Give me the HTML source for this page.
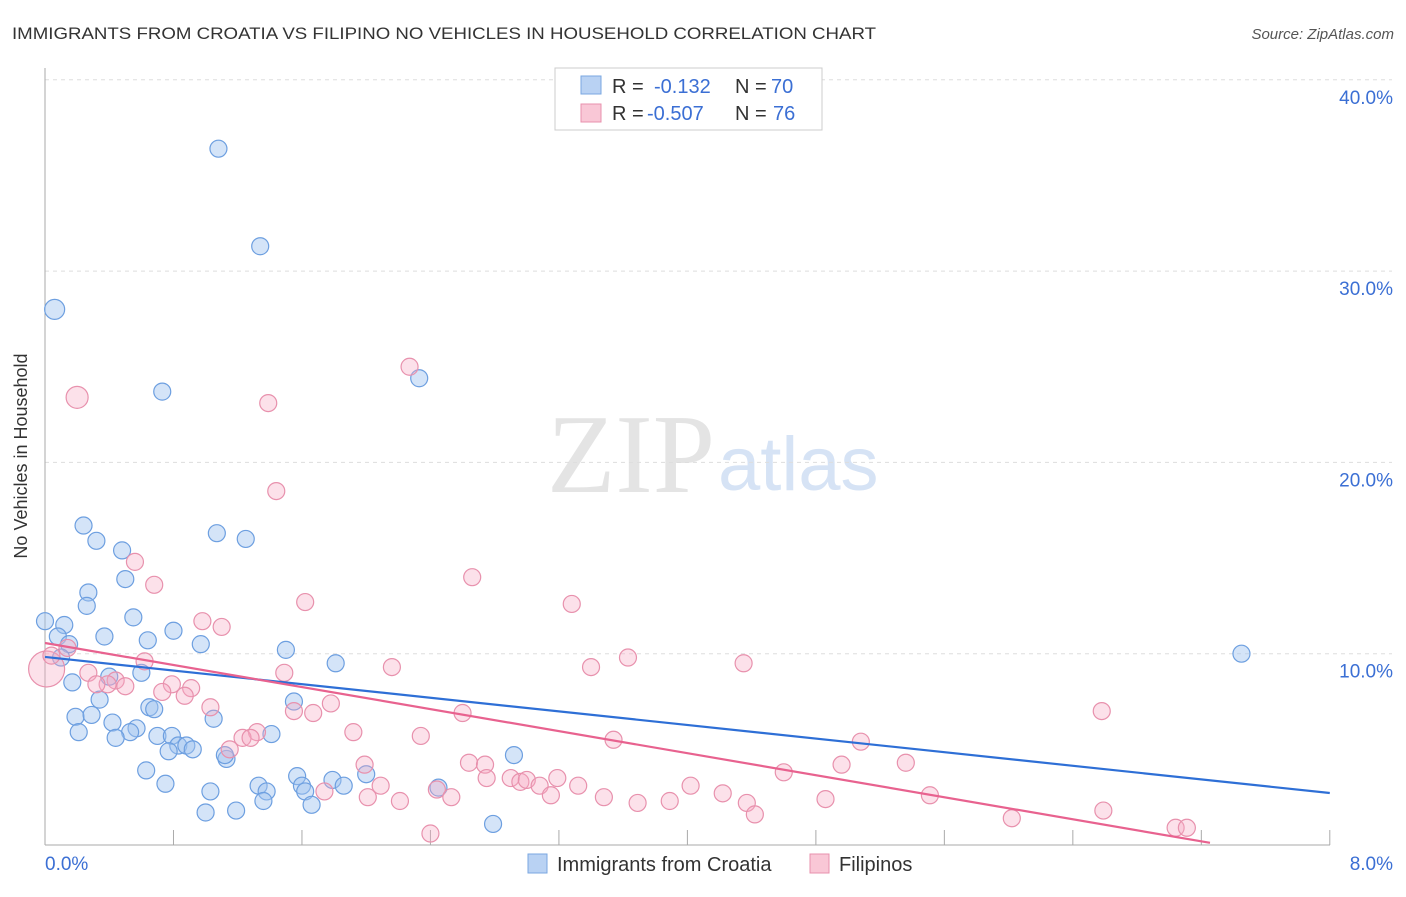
<!DOCTYPE html>
<html><head><meta charset="utf-8"><style>
body{margin:0;background:#fff;font-family:"Liberation Sans",sans-serif;}
</style></head><body>
<svg id="chart" width="1406" height="892" xmlns="http://www.w3.org/2000/svg">
<text x="12" y="39" font-size="17" fill="#333" textLength="864" lengthAdjust="spacingAndGlyphs">IMMIGRANTS FROM CROATIA VS FILIPINO NO VEHICLES IN HOUSEHOLD CORRELATION CHART</text>
<text x="1394" y="39" font-size="15" fill="#555" font-style="italic" text-anchor="end">Source: ZipAtlas.com</text>
<text x="715" y="492" font-size="112" fill="#e4e4e4" text-anchor="end" font-family="Liberation Serif,serif">ZIP</text>
<text x="718" y="490" font-size="76" fill="#d6e3f5">atlas</text>
<g id="grid"></g><g id="axes"></g><g id="pts"></g><g id="lines"></g>
<text x="27" y="456" font-size="18" fill="#333" transform="rotate(-90 27 456)" text-anchor="middle">No Vehicles in Household</text>
<g>
<rect x="555" y="68" width="267" height="62" fill="#fff" stroke="#ccc"/>
<rect x="581" y="76" width="20" height="18" fill="#b9d2f3" stroke="#7aa7e0"/>
<rect x="581" y="104" width="20" height="18" fill="#f9c7d6" stroke="#e891ad"/>
<text x="612" y="93" font-size="20" fill="#333">R =</text>
<text x="654" y="93" font-size="20" fill="#3b6fd4">-0.132</text>
<text x="735" y="93" font-size="20" fill="#333">N =</text>
<text x="771" y="93" font-size="20" fill="#3b6fd4">70</text>
<text x="612" y="120" font-size="20" fill="#333">R =</text>
<text x="647" y="120" font-size="20" fill="#3b6fd4">-0.507</text>
<text x="735" y="120" font-size="20" fill="#333">N =</text>
<text x="773" y="120" font-size="20" fill="#3b6fd4">76</text>
</g>
<g>
<rect x="528" y="854" width="19" height="19" fill="#b9d2f3" stroke="#7aa7e0"/>
<text x="557" y="871" font-size="20" fill="#333">Immigrants from Croatia</text>
<rect x="810" y="854" width="19" height="19" fill="#f9c7d6" stroke="#e891ad"/>
<text x="839" y="871" font-size="20" fill="#333">Filipinos</text>
</g>
</svg>
<script>
const NS="http://www.w3.org/2000/svg";
const yTicks=[10,20,30,40];
const yTickLabels=["10.0%","20.0%","30.0%","40.0%"];
const xLabels=["0.0%","8.0%"];
const croatiaX=[1.08,1.34,0.06,0.73,2.33,0.24,0.32,1.07,1.25,0.48,0.50,0.27,0.26,0.0,0.12,0.55,0.08,0.15,0.37,0.64,0.80,0.97,1.50,1.81,0.10,0.60,0.40,0.17,0.34,0.65,0.68,1.55,1.05,0.19,0.29,0.42,0.21,0.57,0.53,0.44,0.70,0.79,0.83,0.88,0.92,0.77,1.13,1.12,1.41,2.92,0.63,1.57,1.79,2.00,0.75,1.33,1.38,1.60,1.86,1.62,2.45,1.03,1.36,1.66,1.19,1.00,2.79,7.45];
const croatiaY=[36.4,31.3,28.0,23.7,24.4,16.7,15.9,16.3,16.0,15.4,13.9,13.2,12.5,11.7,11.5,11.9,10.9,10.5,10.9,10.7,11.2,10.5,10.2,9.5,9.8,9.0,8.8,8.5,7.6,7.2,7.1,7.5,6.6,6.7,6.8,6.4,5.9,6.1,5.9,5.6,5.7,5.7,5.2,5.2,5.0,4.9,4.5,4.7,5.8,4.7,3.9,3.6,3.4,3.7,3.2,3.1,2.8,3.1,3.1,2.8,3.0,2.8,2.3,2.1,1.8,1.7,1.1,10.0];
const filipinoX=[0.20,2.27,1.39,1.44,0.56,0.68,2.66,1.62,3.28,0.98,1.10,0.01,0.14,0.04,0.62,2.16,1.49,3.40,3.63,4.35,0.27,0.44,0.39,0.32,0.50,0.79,0.73,0.91,0.87,1.78,1.03,1.55,1.67,2.60,6.58,1.92,1.32,1.23,1.28,1.15,2.34,3.54,5.08,1.99,2.64,2.74,2.90,2.96,3.00,3.08,3.19,2.75,4.60,4.96,5.36,1.74,2.09,2.44,2.53,2.01,2.21,3.15,3.32,3.48,3.69,3.89,4.02,4.22,4.37,4.42,4.86,5.51,6.02,6.59,7.04,7.11,2.40];
const filipinoY=[23.4,25.0,23.1,18.5,14.8,13.6,14.0,12.7,12.6,11.7,11.4,9.2,10.3,9.9,9.6,9.3,9.0,9.3,9.8,9.5,9.0,8.6,8.4,8.4,8.3,8.4,8.0,8.2,7.8,7.4,7.2,7.0,6.9,6.9,7.0,5.9,5.9,5.6,5.6,5.0,5.7,5.5,5.4,4.2,4.3,4.2,3.5,3.3,3.4,3.1,3.5,3.5,3.8,4.2,4.3,2.8,3.1,2.9,2.5,2.5,2.3,2.6,3.1,2.5,2.2,2.3,3.1,2.7,2.2,1.6,2.4,2.6,1.4,1.8,0.9,0.9,0.6];
const bigCroatia=[2];const bigFilipino=[0,11];
const trendIntercept=[9.83,10.56];
const trendSlope=[-0.889,-1.44];
const trendEnd=[8,7.254];
const sx=v=>45+v*160.6, sy=v=>845-v*19.13;
function mk(tag,attrs,parent){const e=document.createElementNS(NS,tag);for(const k in attrs)e.setAttribute(k,attrs[k]);document.getElementById(parent).appendChild(e);return e;}
yTicks.forEach((t,i)=>{
 const l=mk('line',{x1:45,x2:1392,y1:sy(t),y2:sy(t),stroke:'#ddd','stroke-dasharray':'4,4'},'grid');
 
 
 const tx=mk('text',{x:1393,y:sy(t)+24,'font-size':19,fill:'#3b6fd4','text-anchor':'end'},'grid');
 tx.textContent=yTickLabels[i];
 
 
});
const ax=mk('line',{x1:45,x2:45,y1:68,y2:845,stroke:'#aaa'},'axes');


const bx=mk('line',{x1:45,x2:1330,y1:845,y2:845,stroke:'#aaa'},'axes');


for(let i=1;i<=10;i++){const t=mk('line',{x1:sx(i*0.8),x2:sx(i*0.8),y1:830,y2:845,stroke:'#aaa'},'axes');
 
 }
[[0,'start',45],[8,'end',1393]].forEach((d,i)=>{const t=mk('text',{x:d[2],y:870,'font-size':19,fill:'#3b6fd4','text-anchor':d[1]},'axes');t.textContent=xLabels[i];
 
 });
croatiaX.forEach((x,i)=>{const c=mk('circle',{cx:sx(x),cy:sy(croatiaY[i]),r:bigCroatia.includes(i)?10:8.5,fill:'rgba(160,195,240,0.45)',stroke:'#6d9fe0','stroke-width':1.2},'pts');
 
 });
filipinoX.forEach((x,i)=>{const c=mk('circle',{cx:sx(x),cy:sy(filipinoY[i]),r:bigFilipino.includes(i)?(i==11?18:11):8.5,fill:'rgba(245,170,195,0.35)',stroke:'#e891ad','stroke-width':1.2},'pts');
 
 });
['#2e6fd6','#e8628f'].forEach((col,i)=>{const l=mk('line',{x1:sx(0),y1:sy(trendIntercept[i]),x2:sx(trendEnd[i]),y2:sy(trendIntercept[i]+trendSlope[i]*trendEnd[i]),stroke:col,'stroke-width':2.2},'lines');
 
 });
</script>
</body></html>
